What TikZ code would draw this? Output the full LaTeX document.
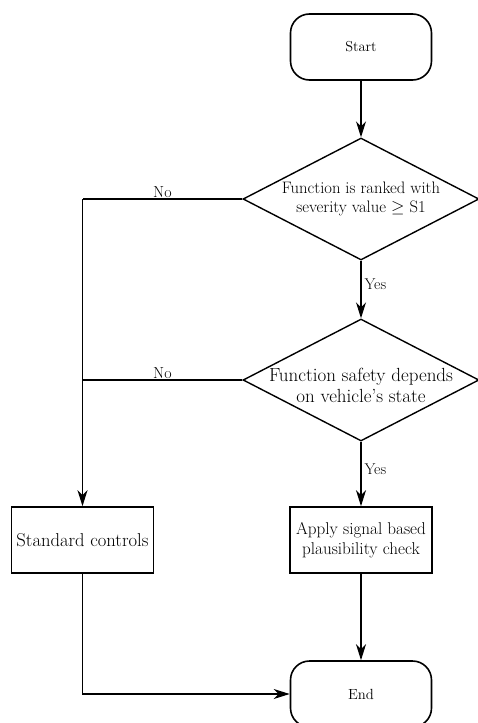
\documentclass[tikz,border=0pt]{standalone}
\usetikzlibrary{shapes.geometric,arrows.meta,calc}
\tikzset{
  box/.style={draw, line width=1.6pt, minimum width=142pt, minimum height=66pt, inner sep=2pt, align=center},
  term/.style={box, rounded corners=19pt, minimum width=141pt},
  dia/.style={draw, diamond, line width=1.4pt, minimum width=236pt, minimum height=122pt, inner sep=0pt},
  conn/.style={line width=1.2pt, -{Stealth[length=16pt,width=10pt,inset=5pt]}},
  plain/.style={line width=1.2pt},
  lbl/.style={font=\fontsize{15.6}{18}\selectfont, inner sep=3pt}
}
\begin{document}
\begin{tikzpicture}[x=1pt,y=1pt]
\useasboundingbox (0,0) rectangle (478,-723);
\node[term, font=\fontsize{14.4}{17}\selectfont] (start) at (361,-47) {Start};
\node[dia] (d1) at (361,-199) {};
\node[font=\fontsize{16.6}{19.5}\selectfont, align=center] (t1) at (361,-199) {Function is ranked with\\ severity value $\geq$ S1};
\node[dia] (d2) at (361,-380) {};
\node[font=\fontsize{19}{21}\selectfont, align=center] (t2) at (361,-385) {Function safety depends\\ on vehicle's state};
\node[box, font=\fontsize{18.6}{21}\selectfont] (std) at (82.5,-540) {Standard controls};
\node[box, font=\fontsize{17.1}{19.5}\selectfont] (apply) at (361,-540) {Apply signal based\\ plausibility check};
\node[term, font=\fontsize{14.7}{17}\selectfont] (end) at (361,-694) {End};
\coordinate (c1) at (std.north |- d1.west);
\coordinate (c2) at (std.north |- d2.west);
\draw[conn] (start) -- (d1.north);
\draw[conn] (d1.south) -- node[lbl, right, pos=0.4] {Yes} (d2.north);
\draw[conn] (d2.south) -- node[lbl, right, pos=0.42] {Yes} (apply.north);
\draw[conn] (apply.south) -- (end.north);
\draw[plain] (d1.west) -- node[lbl, above, inner sep=1pt, font=\fontsize{16}{18}\selectfont] {No} (c1);
\draw[conn] (c1) -- (std.north);
\draw[plain] (d2.west) -- node[lbl, above, inner sep=1pt, font=\fontsize{16}{18}\selectfont] {No} (c2);
\draw[conn] (std.south) |- (end.west);
\end{tikzpicture}
\end{document}
